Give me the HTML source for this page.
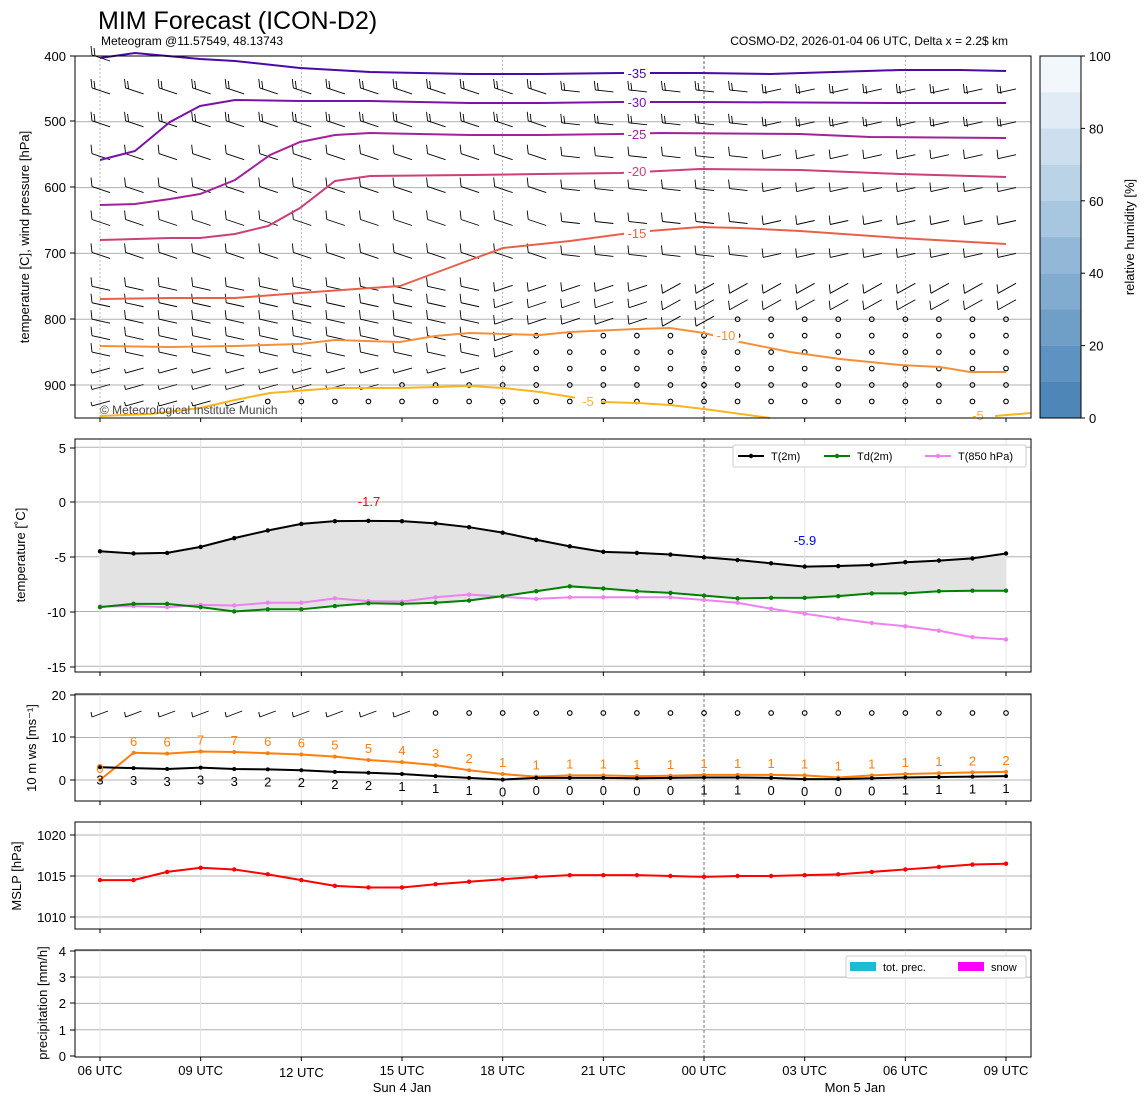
<!DOCTYPE html>
<html><head><meta charset="utf-8"><style>
body{margin:0;background:#fff;}
svg text{font-family:"Liberation Sans","DejaVu Sans",sans-serif;}
</style></head><body>
<svg id="s" width="1148" height="1105" xmlns="http://www.w3.org/2000/svg">
<text x="98" y="29" font-size="25">MIM Forecast (ICON-D2)</text>
<text x="101" y="45" font-size="12">Meteogram @11.57549, 48.13743</text>
<text x="1008" y="45" font-size="12" text-anchor="end">COSMO-D2, 2026-01-04 06 UTC, Delta x = 2.2$ km</text>
<g id="g"></g>
</svg>
<script>
const g=document.getElementById('g');let h='';
const X=i=>100+i*33.556;
const xt=[0,3,6,9,12,15,18,21,24,27],xl=['06 UTC','09 UTC','12 UTC','15 UTC','18 UTC','21 UTC','00 UTC','03 UTC','06 UTC','09 UTC'];
function pl(pts,c,w,extra){return `<polyline points="${pts.map(p=>p.join(',')).join(' ')}" fill="none" stroke="${c}" stroke-width="${w}" ${extra||''}/>`;}
function frame(t,b,ticksY){
 let s='';
 ticksY.forEach(([y,l])=>{s+=`<line x1="75" x2="70" y1="${y}" y2="${y}" stroke="#000"/><text x="66" y="${y+5}" font-size="13" text-anchor="end">${l}</text>`;});
 xt.forEach(i=>{s+=`<line x1="${X(i)}" x2="${X(i)}" y1="${b}" y2="${b+4}" stroke="#000"/>`});
 s+=`<rect x="75" y="${t}" width="956" height="${b-t}" fill="none" stroke="#000"/>`;return s;}
const P=p=>56+(p-400)*0.658;
[500,600,700,800,900].forEach(p=>h+=`<line x1="75" x2="1031" y1="${P(p)}" y2="${P(p)}" stroke="#b0b0b0"/>`);
[0,6,12,24].forEach(i=>h+=`<line x1="${X(i)}" x2="${X(i)}" y1="56" y2="418" stroke="#aaa" stroke-dasharray="2,2" stroke-width="0.8"/>`);
h+=`<line x1="${X(18)}" x2="${X(18)}" y1="56" y2="418" stroke="#333" stroke-dasharray="3,2" stroke-width="0.8"/>`;
const lv=[400,450,500,550,600,650,700,750,775,800,825,850,875,900,925];
const calm={800:19,825:13,850:13,875:12,900:9,925:5};
for(const p of lv){for(let i=0;i<28;i++){const x=X(i),y=P(p)+2;
 if(calm[p]!==undefined&&i>=calm[p]){h+=`<circle cx="${x}" cy="${P(p)}" r="2.3" fill="none" stroke="#000" stroke-width="1.1"/>`;continue;}
 if(p==400&&i>0)continue;
 let sl=p<=700?(i<14?6:(i<20?2:-4)):(i<12?4:-6);
 if(p>=750&&i>=17)sl=-10;
 if(p>=875&&i<12)sl=-5;
 const x0=x-8,y0=y-sl/2,x1=x+10,y1=y+sl/2;
 const bl=p>=875?4:9;
 h+=`<path d="M${x0},${y0}L${x1},${y1}M${x0},${y0}l-1,-${bl}${p<=500?`M${x0+3},${y0+1}l-1,-8`:''}" stroke="#000" stroke-width="0.9" fill="none"/>`;}}
const C=[['#4b0aa6',[[100,58],[135,53],[200,59],[235,61],[300,68],[370,72],[470,74],[540,74],[620,73],[700,73],[770,74],[900,70],[960,70],[1006,71]],'-35',637,73],
['#7b12a8',[[100,160],[135,151],[170,122],[200,106],[235,100],[300,101],[370,101],[470,103],[540,103],[620,102],[700,102],[900,103],[1006,103]],'-30',637,102],
['#a3229a',[[100,205],[135,204],[170,199],[200,194],[235,180],[270,155],[300,142],[335,135],[370,133],[470,135],[540,135],[620,134],[660,133],[800,134],[870,137],[1006,138]],'-25',637,134],
['#cc3f78',[[100,240],[170,238],[200,238],[235,234],[268,226],[300,208],[335,181],[370,176],[470,175],[540,174],[620,173],[700,169],[800,170],[900,174],[1006,177]],'-20',637,171],
['#e8604c',[[100,299],[170,298],[235,298],[300,293],[370,288],[400,286],[435,273],[470,260],[503,248],[570,241],[637,232],[700,227],[740,228],[800,231],[900,238],[1006,244]],'-15',637,233],
['#f5903a',[[100,346],[170,347],[235,346],[300,344],[335,340],[400,342],[435,336],[470,333],[540,335],[570,332],[637,329],[670,328],[704,333],[740,342],[790,352],[840,359],[900,365],[940,367],[970,372],[1006,372]],'-10',726,335],
['#f7b51e',[[100,416],[150,414],[200,408],[235,400],[270,393],[335,388],[400,388],[470,386],[503,388],[540,392],[590,400],[603,402],[637,403],[670,405],[704,409],[770,418]],'-5',588,401]];
C.forEach(([c,pts,l,lx,ly])=>{h+=pl(pts,c,2);h+=`<rect x="${lx-13}" y="${ly-8}" width="26" height="15" fill="#fff"/><text x="${lx}" y="${ly+5}" font-size="13" fill="${c}" text-anchor="middle">${l}</text>`;});
h+=pl([[995,416],[1031,413]],'#f7b51e',2)+`<text x="978" y="420" font-size="13" fill="#f7b51e" text-anchor="middle">-5</text>`;
h+=`<text x="100" y="414" font-size="12" fill="#444">© Meteorological Institute Munich</text>`;
h+=frame(56,418,[[56,400],[121,500],[187,600],[253,700],[319,800],[385,900]]);
h+=`<text transform="translate(29,237) rotate(-90)" font-size="13" text-anchor="middle">temperature [C], wind pressure [hPa]</text>`;
const cb=['#4f86b8','#5e92c0','#6f9ec7','#81abcf','#93b8d7','#a7c6df','#bad3e7','#cddfee','#e1ebf5','#f2f7fc'];
for(let k=0;k<10;k++)h+=`<rect x="1040" y="${418-(k+1)*36.2}" width="41" height="36.4" fill="${cb[k]}"/>`;
h+=`<rect x="1040" y="56" width="41" height="362" fill="none" stroke="#000"/>`;
[0,20,40,60,80,100].forEach((v,k)=>{const y=418-k*72.4;h+=`<line x1="1081" x2="1085" y1="${y}" y2="${y}" stroke="#000"/><text x="1089" y="${y+5}" font-size="13">${v}</text>`;});
h+=`<text transform="translate(1134,237) rotate(-90)" font-size="13" text-anchor="middle">relative humidity [%]</text>`;
const T2=v=>502-v*10.95;
const t2=[-4.5,-4.7,-4.65,-4.1,-3.3,-2.6,-2.0,-1.75,-1.72,-1.75,-1.95,-2.3,-2.8,-3.45,-4.05,-4.55,-4.65,-4.8,-5.05,-5.3,-5.6,-5.9,-5.85,-5.75,-5.5,-5.35,-5.15,-4.7];
const td=[-9.6,-9.3,-9.3,-9.6,-10.0,-9.8,-9.8,-9.5,-9.25,-9.3,-9.2,-9.0,-8.6,-8.15,-7.7,-7.9,-8.15,-8.3,-8.55,-8.8,-8.75,-8.75,-8.6,-8.35,-8.35,-8.15,-8.1,-8.1];
const t8=[-9.55,-9.5,-9.6,-9.4,-9.45,-9.2,-9.2,-8.8,-9.05,-9.1,-8.7,-8.45,-8.65,-8.85,-8.7,-8.7,-8.7,-8.7,-8.95,-9.2,-9.75,-10.2,-10.65,-11.05,-11.35,-11.75,-12.35,-12.55];
[5,0,-5,-10,-15].forEach(v=>h+=`<line x1="75" x2="1031" y1="${T2(v)}" y2="${T2(v)}" stroke="#b0b0b0"/>`);
function vg(t,b){let s='';xt.forEach(i=>{s+= i==18?`<line x1="${X(i)}" x2="${X(i)}" y1="${t}" y2="${b}" stroke="#555" stroke-dasharray="3,2" stroke-width="0.8"/>`:`<line x1="${X(i)}" x2="${X(i)}" y1="${t}" y2="${b}" stroke="#e4e4e4"/>`});return s;}
h+=vg(439,672);
h+=`<polygon points="${t2.map((v,i)=>X(i)+','+T2(v)).join(' ')} ${td.map((v,i)=>X(i)+','+T2(v)).reverse().join(' ')}" fill="#e3e3e3"/>`;
function ser(a,f,c,r){let s=pl(a.map((v,i)=>[X(i),f(v)]),c,2);a.forEach((v,i)=>s+=`<circle cx="${X(i)}" cy="${f(v)}" r="${r}" fill="${c}"/>`);return s;}
h+=ser(t8,T2,'#ee82ee',2.2)+ser(td,T2,'#008000',2.2)+ser(t2,T2,'#000',2.2);
h+=`<text x="369" y="506" font-size="13" fill="red" text-anchor="middle">-1.7</text><text x="805" y="545" font-size="13" fill="blue" text-anchor="middle">-5.9</text>`;
h+=`<rect x="733" y="445" width="293" height="22" fill="#fff" stroke="#ccc" rx="2"/>`;
[['#000','T(2m)',738],['#008000','Td(2m)',824],['#ee82ee','T(850 hPa)',925]].forEach(([c,l,x])=>h+=`<line x1="${x}" x2="${x+26}" y1="456" y2="456" stroke="${c}" stroke-width="2"/><circle cx="${x+13}" cy="456" r="2.2" fill="${c}"/><text x="${x+33}" y="460" font-size="11">${l}</text>`);
h+=frame(439,672,[[448,5],[502,0],[557,-5],[612,-10],[667,-15]]);
h+=`<text transform="translate(25,555) rotate(-90)" font-size="13" text-anchor="middle">temperature [˚C]</text>`;
const W=v=>780-v*4.25;
[20,10,0].forEach(v=>h+=`<line x1="75" x2="1031" y1="${W(v)}" y2="${W(v)}" stroke="#b0b0b0"/>`);
h+=vg(694,801);
const gu=[0,6.4,6.2,6.7,6.6,6.3,6.0,5.5,4.7,4.2,3.5,2.3,1.4,0.8,1.1,1.1,0.9,1.0,1.2,1.2,1.2,1.1,0.6,1.1,1.4,1.6,1.8,1.9];
const gl=[0,6,6,7,7,6,6,5,5,4,3,2,1,1,1,1,1,1,1,1,1,1,1,1,1,1,2,2];
const ws=[3.0,2.8,2.6,2.9,2.6,2.5,2.3,1.9,1.7,1.4,0.9,0.5,0.1,0.5,0.5,0.5,0.4,0.5,0.6,0.6,0.5,0.2,0.2,0.4,0.6,0.7,0.8,0.9];
const wl=[3,3,3,3,3,2,2,2,2,1,1,1,0,0,0,0,0,0,1,1,0,0,0,0,1,1,1,1];
h+=ser(gu,W,'#ff7f0e',2)+ser(ws,W,'#000',2);
gu.forEach((v,i)=>h+=`<text x="${X(i)}" y="${W(v)-7}" font-size="13" fill="#ff7f0e" text-anchor="middle">${gl[i]}</text>`);
ws.forEach((v,i)=>h+=`<text x="${X(i)}" y="${W(v)+17}" font-size="13" text-anchor="middle">${wl[i]}</text>`);
for(let i=0;i<28;i++){const x=X(i);if(i<10)h+=`<path d="M${x-8},${717}L${x+8},${711}M${x-8},717l-1,-5" stroke="#000" stroke-width="0.9" fill="none"/>`;else h+=`<circle cx="${x}" cy="713" r="2.3" fill="none" stroke="#000" stroke-width="1.1"/>`;}
h+=frame(694,801,[[695,20],[737,10],[780,0]]);
h+=`<text transform="translate(36,748) rotate(-90)" font-size="13" text-anchor="middle">10 m ws [ms⁻¹]</text>`;
const M=v=>876-(v-1015)*8.2;
[1020,1015,1010].forEach(v=>h+=`<line x1="75" x2="1031" y1="${M(v)}" y2="${M(v)}" stroke="#b0b0b0"/>`);
h+=vg(822,929);
const ms=[1014.5,1014.5,1015.5,1016.0,1015.8,1015.2,1014.5,1013.8,1013.6,1013.6,1014.0,1014.3,1014.6,1014.9,1015.1,1015.1,1015.1,1015.0,1014.9,1015.0,1015.0,1015.1,1015.2,1015.5,1015.8,1016.1,1016.4,1016.5];
h+=ser(ms,M,'#ff0000',2.2);
h+=frame(822,929,[[835,1020],[876,1015],[917,1010]]);
h+=`<text transform="translate(21,876) rotate(-90)" font-size="13" text-anchor="middle">MSLP [hPa]</text>`;
[4,3,2,1].forEach(v=>h+=`<line x1="75" x2="1031" y1="${1056-v*26.3}" y2="${1056-v*26.3}" stroke="#b0b0b0"/>`);
h+=vg(950,1057);
h+=`<rect x="846" y="956" width="180" height="22" fill="#fff" stroke="#ccc" rx="2"/><rect x="850" y="962" width="26" height="9" fill="#17becf"/><text x="883" y="971" font-size="11">tot. prec.</text><rect x="958" y="962" width="26" height="9" fill="#ff00ff"/><text x="991" y="971" font-size="11">snow</text>`;
h+=frame(950,1057,[[951,4],[977,3],[1003,2],[1030,1],[1056,0]]);
h+=`<text transform="translate(47,1003) rotate(-90)" font-size="13" text-anchor="middle">precipitation [mm/h]</text>`;
xt.forEach((i,k)=>h+=`<text x="${X(i)}" y="${k==2?1077:1075}" font-size="13" text-anchor="middle">${xl[k]}</text>`);
h+=`<text x="402" y="1092" font-size="13" text-anchor="middle">Sun 4 Jan</text><text x="855" y="1092" font-size="13" text-anchor="middle">Mon 5 Jan</text>`;
g.innerHTML=h;
</script>
</body></html>
